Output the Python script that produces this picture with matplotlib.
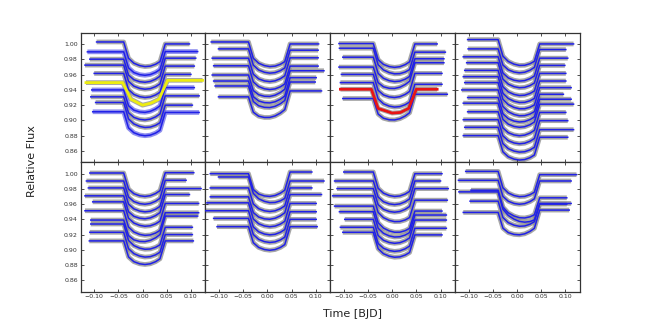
import numpy as np
import matplotlib
matplotlib.use('Agg')
import matplotlib.pyplot as plt

# ---- data (flux levels before/after transit, time range) ----
p1_left = [1.0030, 0.9900, 0.9804, 0.9726, 0.9617, 0.9496, 0.9400, 0.9309, 0.9235, 0.9113]
p1_right = [1.0004, 0.9904, 0.9817, 0.9713, 0.9604, 0.9526, 0.9430, 0.9322, 0.9200, 0.9104]
p1_start = [-0.095, -0.114, -0.109, -0.119, -0.100, -0.117, -0.105, -0.107, -0.097, -0.103]
p1_end = [0.097, 0.114, 0.110, 0.107, 0.100, 0.124, 0.107, 0.117, 0.103, 0.117]

p2_left = [1.0030, 0.9939, 0.9817, 0.9717, 0.9596, 0.9517, 0.9452, 0.9309]
p2_right = [1.0004, 0.9922, 0.9822, 0.9713, 0.9652, 0.9561, 0.9504, 0.9387]
p2_start = [-0.116, -0.101, -0.114, -0.111, -0.114, -0.111, -0.108, -0.101]
p2_end = [0.106, 0.105, 0.105, 0.105, 0.117, 0.101, 0.099, 0.112]

p3_left = [1.0009, 0.9948, 0.9830, 0.9700, 0.9604, 0.9496, 0.9409, 0.9287]
p3_right = [1.0004, 0.9896, 0.9809, 0.9757, 0.9617, 0.9474, 0.9409, 0.9343]
p3_start = [-0.110, -0.109, -0.102, -0.110, -0.105, -0.107, -0.107, -0.102]
p3_end = [0.093, 0.110, 0.107, 0.107, 0.103, 0.103, 0.093, 0.114]

p4_left = [1.0061, 0.9939, 0.9835, 0.9757, 0.9657, 0.9574, 0.9496, 0.9400, 0.9300,
           0.9226, 0.9113, 0.9009, 0.8909, 0.8800]
p4_right = [1.0004, 0.9930, 0.9817, 0.9722, 0.9617, 0.9517, 0.9430, 0.9343, 0.9278,
            0.9213, 0.9104, 0.8996, 0.8878, 0.8778]
p4_start = [-0.102, -0.101, -0.111, -0.104, -0.108, -0.111, -0.108, -0.114, -0.102,
            -0.111, -0.102, -0.111, -0.108, -0.111]
p4_end = [0.117, 0.101, 0.105, 0.099, 0.101, 0.101, 0.112, 0.096, 0.112, 0.117,
          0.101, 0.105, 0.117, 0.105]

p5_left = [1.0009, 0.9904, 0.9813, 0.9709, 0.9630, 0.9513, 0.9391, 0.9339, 0.9230, 0.9117]
p5_right = [1.0013, 0.9913, 0.9804, 0.9726, 0.9609, 0.9487, 0.9443, 0.9296, 0.9200, 0.9117]
p5_start = [-0.109, -0.116, -0.112, -0.119, -0.103, -0.119, -0.107, -0.107, -0.109, -0.110]
p5_end = [0.106, 0.090, 0.121, 0.097, 0.116, 0.116, 0.114, 0.103, 0.103, 0.105]

p6_left = [1.0000, 0.9957, 0.9813, 0.9696, 0.9617, 0.9513, 0.9413, 0.9304]
p6_right = [1.0022, 0.9904, 0.9813, 0.9726, 0.9609, 0.9500, 0.9400, 0.9304]
p6_start = [-0.118, -0.101, -0.118, -0.118, -0.125, -0.128, -0.111, -0.104]
p6_end = [0.092, 0.117, 0.092, 0.112, 0.101, 0.101, 0.101, 0.103]

p7_left = [1.0022, 0.9904, 0.9804, 0.9709, 0.9574, 0.9500, 0.9400, 0.9296, 0.9230]
p7_right = [1.0000, 0.9904, 0.9804, 0.9652, 0.9509, 0.9457, 0.9391, 0.9283, 0.9196]
p7_start = [-0.100, -0.119, -0.114, -0.123, -0.119, -0.109, -0.098, -0.107, -0.102]
p7_end = [0.103, 0.100, 0.116, 0.114, 0.103, 0.112, 0.112, 0.112, 0.103]

p8_left = [1.0030, 0.9913, 0.9783, 0.9761, 0.9639, 0.9491]
p8_right = [0.9987, 0.9904, 0.9683, 0.9609, 0.9600, 0.9522]
p8_start = [-0.106, -0.121, -0.095, -0.120, -0.097, -0.111]
p8_end = [0.123, 0.112, 0.103, 0.112, 0.103, 0.108]

# transit profile (fraction of depth)
profile_t = [-0.039, -0.029, -0.018, -0.006, 0.005, 0.016, 0.027, 0.036, 0.047]
profile_frac = [0.0, 0.68, 0.88, 0.97, 1.0, 0.97, 0.88, 0.76, 0.0]
transit_depth = 0.031

# highlighted transits
yellow_t = [-0.117, -0.041, -0.024, 0.0, 0.017, 0.034, 0.052, 0.124]
yellow_f = [0.9496, 0.9496, 0.9278, 0.9200, 0.9226, 0.9278, 0.9526, 0.9526]
red_t = [-0.107, -0.043, -0.029, 0.0, 0.017, 0.034, 0.050, 0.093]
red_f = [0.9409, 0.9409, 0.9157, 0.9096, 0.9104, 0.9157, 0.9409, 0.9409]

xticks = [-0.10, -0.05, 0.00, 0.05, 0.10]
yticks = [0.86, 0.88, 0.90, 0.92, 0.94, 0.96, 0.98, 1.00]

panels = [
    (p1_left, p1_right, p1_start, p1_end),
    (p2_left, p2_right, p2_start, p2_end),
    (p3_left, p3_right, p3_start, p3_end),
    (p4_left, p4_right, p4_start, p4_end),
    (p5_left, p5_right, p5_start, p5_end),
    (p6_left, p6_right, p6_start, p6_end),
    (p7_left, p7_right, p7_start, p7_end),
    (p8_left, p8_right, p8_start, p8_end),
]
highlights = {0: (5, yellow_t, yellow_f, '#ecec10'), 2: (6, red_t, red_f, '#e81414')}
blue_points = {0: [1, 6, 9]}

GRAY = '#8a8a8a'
BLUE = '#2020e8'

fig, axes = plt.subplots(2, 4, figsize=(6.45, 3.25), dpi=100, sharex=True, sharey=True)
fig.subplots_adjust(left=0.125, right=0.899, top=0.899, bottom=0.1025, wspace=0, hspace=0)

for k, ax in enumerate(axes.flat):
    L, R, S, E = panels[k]
    hl = highlights.get(k)
    for i in range(len(L)):
        t_in = profile_t[0]
        t_out = profile_t[-1]
        base = [L[i] + (R[i] - L[i]) * (t - t_in) / (t_out - t_in) for t in profile_t]
        ft = [S[i]] + profile_t + [E[i]]
        ff = [L[i]] + [b - transit_depth * fr for b, fr in zip(base, profile_frac)] + [R[i]]
        if hl is not None and hl[0] == i:
            ax.plot(hl[1], hl[2], color=GRAY, lw=3.4, alpha=0.75, solid_capstyle='butt', zorder=1)
            ax.plot(hl[1], hl[2], color=hl[3], lw=2.0, zorder=4)
            continue
        bc = '#6a6ae8' if i in blue_points.get(k, []) else GRAY
        ax.plot(ft, ff, color=bc, lw=3.4, alpha=0.75, solid_capstyle='butt', zorder=1)
        ax.plot(ft, ff, color=BLUE, lw=1.1, zorder=3)

    ax.set_xlim(-0.128, 0.130)
    ax.set_ylim(0.845, 1.015)
    ax.set_xticks(xticks)
    ax.set_yticks(yticks)
    ax.tick_params(direction='in', top=True, right=True, length=2.5, width=0.6,
                   labelsize=4.5, pad=2, colors='#333333')
    for sp in ax.spines.values():
        sp.set_color('#333333')
        sp.set_linewidth(0.9)

for ax in axes[1]:
    ax.set_xticklabels([f'{v:.2f}'.replace('-', '\u2212') for v in xticks])
for ax in axes[:, 0]:
    ax.set_yticklabels([f'{v:.2f}' for v in yticks])

fig.text(0.546, 0.035, 'Time [BJD]', ha='center', va='center', fontsize=8, color='#222222')
fig.text(0.049, 0.505, 'Relative Flux', ha='center', va='center', rotation=90,
         fontsize=8, color='#222222')

fig.savefig('out.png', dpi=100)
